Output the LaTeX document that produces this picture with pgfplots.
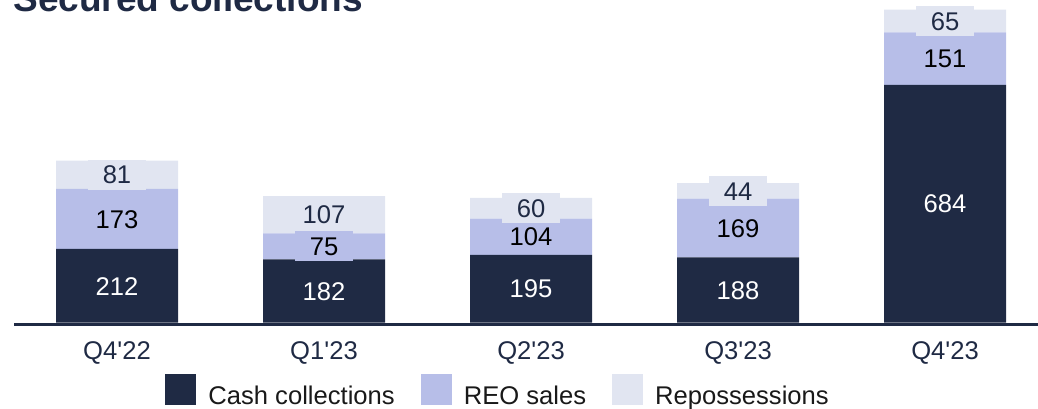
\documentclass[border=0pt]{standalone}
\usepackage{pgfplots}
\pgfplotsset{compat=1.18}
\usepackage{fontspec}
\setmainfont{Liberation Sans}
\definecolor{navy}{HTML}{1F2A44}
\definecolor{reo}{HTML}{B7BEE8}
\definecolor{repo}{HTML}{E1E5F1}
\newcommand{\lblfont}{\fontsize{12.8}{15}\selectfont}
\begin{document}
\lblfont
\begin{tikzpicture}
\pgfplotsset{
  common/.style={
    scale only axis, width=512pt, height=162.17pt,
    at={(7pt,41.825pt)}, anchor=south west,
    xmin=-0.49758, xmax=4.4493, ymin=-4.74, ymax=927.8,
  }
}
\begin{axis}[common,
  ybar stacked, bar width=61pt,
  axis y line=none, axis x line*=bottom,
  x axis line style={draw=navy, line width=1.65pt},
  xtick={0,1,2,3,4},
  xticklabels={Q4\textquotesingle 22,Q1\textquotesingle 23,Q2\textquotesingle 23,Q3\textquotesingle 23,Q4\textquotesingle 23},
  xtick style={draw=none},
  xticklabel style={anchor=base, yshift=-17.8pt, text=navy, font=\lblfont, inner sep=0pt},
  legend style={at={(0.14746,-0.2070)}, anchor=west, draw=none, fill=none,
    inner sep=0pt, legend columns=-1, font=\lblfont, text=black!90,
    nodes={inner sep=0pt},
    /tikz/every odd column/.append style={column sep=6pt},
    /tikz/every even column/.append style={column sep=13pt}},
  legend image code/.code={\fill[#1] (0pt,-4pt) rectangle (15.5pt,11.5pt);},
]
\addplot[fill=navy, draw=none] coordinates {(0,212) (1,182) (2,195) (3,188) (4,684)};
\addplot[fill=reo, draw=none] coordinates {(0,173) (1,75) (2,104) (3,169) (4,151)};
\addplot[fill=repo, draw=none] coordinates {(0,81) (1,107) (2,60) (3,44) (4,65)};
\legend{Cash collections, REO sales, Repossessions}
\end{axis}
\begin{axis}[common, hide axis, clip=false,
  nodes near coords, point meta=explicit symbolic,
  nodes near coords style={anchor=center, font=\lblfont, text height=9.2pt, text depth=0pt, inner xsep=7.4pt, inner ysep=2.9pt},
]
\addplot[draw=none, mark=none, nodes near coords style={text=white}]
  coordinates {(0,106)[212] (1,91)[182] (2,97.5)[195] (3,94)[188] (4,342)[684]};
\addplot[draw=none, mark=none, nodes near coords style={text=black, fill=reo}]
  coordinates {(0,298.5)[173] (1,219.5)[75] (2,247)[104] (3,272.5)[169] (4,759.5)[151]};
\addplot[draw=none, mark=none, nodes near coords style={text=navy, fill=repo}]
  coordinates {(0,425.5)[81] (1,310.5)[107] (2,329)[60] (3,379)[44] (4,867.5)[65]};
\end{axis}
\node[anchor=base west, inner sep=0pt, text=navy, font=\fontsize{18.5}{20}\selectfont\bfseries] at (6.5pt,198.25pt) {Secured collections};
\pgfresetboundingbox
\path[use as bounding box] (0,0) rectangle (519pt,204pt);
\end{tikzpicture}
\end{document}
